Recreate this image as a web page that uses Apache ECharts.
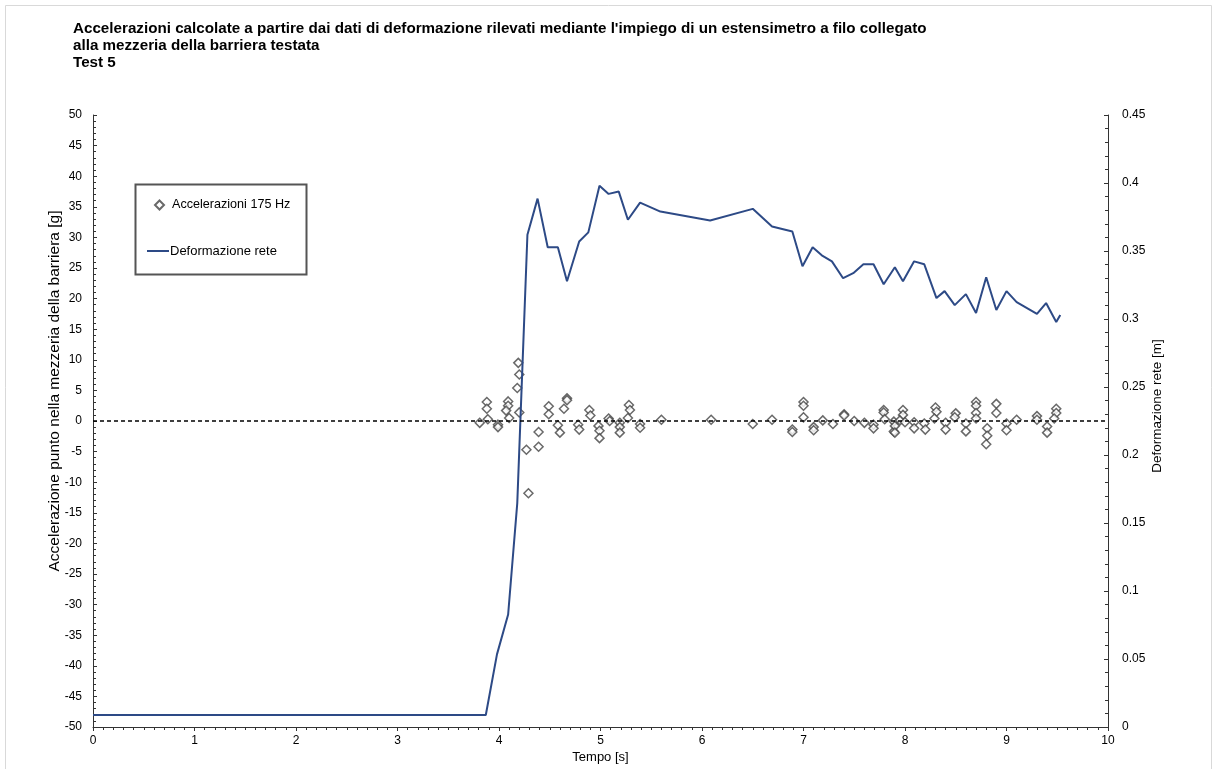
<!DOCTYPE html>
<html>
<head>
<meta charset="utf-8">
<script src="https://cdn.jsdelivr.net/npm/echarts@6/dist/echarts.min.js"></script>
<style>
html,body{margin:0;padding:0;background:#fff;width:100%;height:100%;overflow:hidden;}
#chart{width:1213px;height:769px;}
</style>
</head>
<body>
<div id="chart"></div>
<script>
// Deformazione rete [m] (right axis)
var lineX = [0, 3.87, 3.98, 4.09, 4.18, 4.28, 4.38, 4.48, 4.58, 4.67, 4.79, 4.88, 4.99, 5.08, 5.18, 5.27, 5.39, 5.59, 6.08, 6.50, 6.69, 6.89, 6.99, 7.09, 7.18, 7.28, 7.39, 7.49, 7.59, 7.69, 7.79, 7.90, 7.98, 8.09, 8.19, 8.31, 8.39, 8.49, 8.60, 8.70, 8.80, 8.90, 9.00, 9.10, 9.30, 9.39, 9.49, 9.53];
var lineY = [0.0088, 0.0088, 0.0534, 0.0827, 0.1646, 0.362, 0.3885, 0.3527, 0.3527, 0.3278, 0.357, 0.3637, 0.398, 0.392, 0.3937, 0.373, 0.3856, 0.379, 0.3724, 0.381, 0.368, 0.3644, 0.3388, 0.3527, 0.3468, 0.3424, 0.330, 0.3337, 0.3402, 0.3402, 0.3256, 0.338, 0.3278, 0.3424, 0.3402, 0.3154, 0.3205, 0.3102, 0.3183, 0.3044, 0.3307, 0.3066, 0.3205, 0.3124, 0.3037, 0.3117, 0.2978, 0.303];

// Accelerazioni 175 Hz [g] (left axis)
var accX = [3.81, 3.88, 3.88, 3.89, 3.99, 3.99, 4.09, 4.09, 4.07, 4.10, 4.19, 4.20, 4.18, 4.20, 4.27, 4.29, 4.39, 4.39, 4.49, 4.49, 4.58, 4.60, 4.67, 4.67, 4.64, 4.78, 4.79, 4.89, 4.90, 4.98, 4.99, 4.99, 5.08, 5.09, 5.19, 5.19, 5.19, 5.28, 5.29, 5.27, 5.39, 5.39, 5.60,
  6.09, 6.50, 6.69, 6.89, 6.89, 7.00, 7.00, 7.00, 7.10, 7.10, 7.19, 7.29, 7.40, 7.40, 7.50, 7.60, 7.69, 7.69, 7.79, 7.79, 7.80, 7.89, 7.89, 7.90, 7.90, 7.98, 7.98, 7.95, 8.00,
  8.09, 8.09, 8.19, 8.20, 8.30, 8.31, 8.29, 8.40, 8.40, 8.50, 8.49, 8.60, 8.60, 8.70, 8.70, 8.70, 8.70, 8.81, 8.81, 8.80, 8.90, 8.90, 9.00, 9.00, 9.10, 9.30, 9.30, 9.40, 9.40, 9.49, 9.49, 9.47];
var accY = [-0.3, 3.1, 2.0, 0.3, -0.6, -1.0, 3.2, 2.5, 1.7, 0.5, 9.5, 7.6, 5.4, 1.4, -4.7, -11.8, -1.8, -4.2, 2.4, 1.1, -0.7, -1.9, 3.7, 3.4, 2.0, -0.6, -1.4, 1.8, 0.9, -0.8, -1.6, -2.8, 0.4, 0.0, -0.3, -1.0, -1.9, 2.6, 1.8, 0.5, -0.5, -1.1, 0.2,
  0.2, -0.5, 0.2, -1.4, -1.8, 3.1, 2.5, 0.6, -1.0, -1.5, 0.1, -0.5, 1.1, 0.9, 0.0, -0.3, -0.6, -1.2, 1.8, 1.4, 0.3, -0.1, -1.7, -0.8, -1.9, 1.8, 1.0, 0.1, -0.2,
  -0.2, -1.2, -0.4, -1.4, 2.2, 1.5, 0.4, -0.3, -1.4, 1.25, 0.6, -0.4, -1.7, 3.1, 2.5, 1.3, 0.4, -1.2, -2.4, -3.8, 2.8, 1.3, -0.4, -1.5, 0.2, 0.8, 0.2, -0.9, -1.9, 2.0, 1.3, 0.4];

var titleLines = [
  "Accelerazioni calcolate a partire dai dati di deformazione rilevati mediante l'impiego di un estensimetro a filo collegato",
  "alla mezzeria della barriera testata",
  "Test 5"
];
var xAxisName = "Tempo [s]";
var yLeftName = "Accelerazione punto nella mezzeria della barriera [g]";
var yRightName = "Deformazione rete [m]";
var accName = "Accelerazioni 175 Hz";
var defName = "Deformazione rete";

var lineData = lineX.map(function (x, i) { return [x, lineY[i]]; });
var accData = accX.map(function (x, i) { return [x, accY[i]]; });

var font = "Liberation Sans, Arial, sans-serif";
var axisColor = '#333';
var navy = '#2d4a86';

var chart = echarts.init(document.getElementById('chart'), null, {renderer: 'canvas'});
chart.setOption({
  animation: false,
  backgroundColor: '#fff',
  textStyle: {fontFamily: font},
  title: {
    text: titleLines.join('\n'),
    left: 73, top: 20.5, padding: 0,
    textStyle: {fontFamily: font, fontSize: 15.2, fontWeight: 'bold', color: '#000', lineHeight: 17}
  },
  graphic: [
    {type: 'rect', left: 3, top: 3, shape: {width: 1206, height: 770}, style: {fill: 'none', stroke: '#d9d9d9', lineWidth: 1}, silent: true},
    {type: 'rect', left: 133, top: 182, shape: {width: 171, height: 90}, style: {fill: 'none', stroke: '#555', lineWidth: 2}, silent: true}
  ],
  legend: [
    {
      data: [accName], left: 154, top: 198.5, padding: 0,
      itemWidth: 9, itemHeight: 9,
      textStyle: {fontFamily: font, fontSize: 12.6, color: '#000', padding: [0, 0, 0, 3]}
    },
    {
      data: [{name: defName, icon: 'rect'}], left: 147, top: 244.5, padding: 0,
      itemWidth: 22, itemHeight: 2,
      itemStyle: {color: navy},
      textStyle: {fontFamily: font, fontSize: 13, color: '#000', padding: [0, 0, 0, -4]}
    }
  ],
  grid: {left: 93, right: 105, top: 115, bottom: 38, containLabel: false},
  xAxis: {
    type: 'value', min: 0, max: 10, interval: 1,
    name: xAxisName, nameLocation: 'middle', nameGap: 24, nameMoveOverlap: false,
    nameTextStyle: {fontFamily: font, fontSize: 13, color: '#000'},
    axisLine: {show: true, onZero: false, lineStyle: {color: axisColor, width: 1}},
    axisTick: {show: true, inside: false, length: 4, lineStyle: {color: axisColor}},
    minorTick: {show: true, splitNumber: 10, length: 3, lineStyle: {color: axisColor}},
    axisLabel: {fontFamily: font, fontSize: 12, color: '#000', margin: 8},
    splitLine: {show: false}
  },
  yAxis: [
    {
      type: 'value', min: -50, max: 50, interval: 5, position: 'left',
      name: yLeftName, nameLocation: 'middle', nameGap: 30, nameRotate: 90, nameMoveOverlap: false,
      nameTextStyle: {fontFamily: font, fontSize: 15.5, color: '#000', padding: [0, 0, 0, 60]},
      axisLine: {show: true, onZero: false, lineStyle: {color: axisColor, width: 1}},
      axisTick: {show: true, inside: true, length: 4, lineStyle: {color: axisColor}},
      minorTick: {show: true, splitNumber: 5, length: 3, lineStyle: {color: axisColor}},
      axisLabel: {fontFamily: font, fontSize: 12, color: '#000', margin: 11},
      splitLine: {show: false}
    },
    {
      type: 'value', min: 0, max: 0.45, interval: 0.05, position: 'right',
      name: yRightName, nameLocation: 'middle', nameGap: 42, nameRotate: 90, nameMoveOverlap: false,
      nameTextStyle: {fontFamily: font, fontSize: 13.5, color: '#000', padding: [0, 0, 0, 30]},
      axisLine: {show: true, onZero: false, lineStyle: {color: axisColor, width: 1}},
      axisTick: {show: true, inside: true, length: 4, lineStyle: {color: axisColor}},
      minorTick: {show: true, splitNumber: 5, length: 3, lineStyle: {color: axisColor}},
      axisLabel: {fontFamily: font, fontSize: 12, color: '#000', margin: 14},
      splitLine: {show: false}
    }
  ],
  series: [
    {
      name: accName, type: 'scatter', xAxisIndex: 0, yAxisIndex: 0,
      data: accData, symbol: 'diamond', symbolSize: 9,
      itemStyle: {color: '#fff', borderColor: '#444', borderWidth: 1.5},
      z: 3,
      markLine: {
        silent: true, symbol: ['none', 'none'],
        label: {show: false},
        lineStyle: {color: '#000', type: [4, 3], width: 1.5},
        data: [{yAxis: 0}]
      }
    },
    {
      name: defName, type: 'line', xAxisIndex: 0, yAxisIndex: 1,
      data: lineData, symbol: 'none', showSymbol: false,
      lineStyle: {color: navy, width: 2},
      itemStyle: {color: navy},
      z: 4
    }
  ]
});
</script>
</body>
</html>
